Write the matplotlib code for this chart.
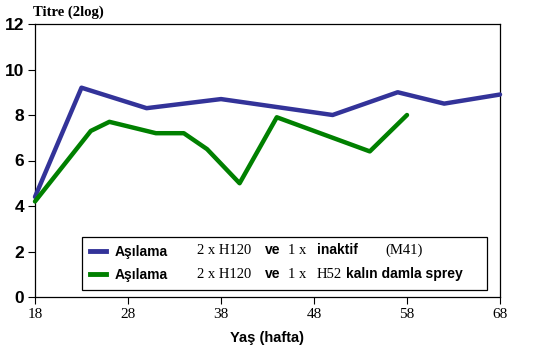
import numpy as np
import matplotlib
matplotlib.use("Agg")
import matplotlib.pyplot as plt
from matplotlib.lines import Line2D

# veriler
hafta_m41 = [18, 23, 30, 38, 50, 57, 62, 68]
titre_m41 = [4.4, 9.2, 8.3, 8.7, 8.0, 9.0, 8.5, 8.9]

hafta_h52 = [18, 24, 26, 31, 34, 36.5, 40, 44, 50, 54, 58]
titre_h52 = [4.2, 7.3, 7.7, 7.2, 7.2, 6.5, 5.0, 7.9, 7.0, 6.4, 8.0]

x_ticks = [18, 28, 38, 48, 58, 68]
y_ticks = [0, 2, 4, 6, 8, 10, 12]

mavi = '#333399'
yesil = '#008000'

W, H = 542, 349
fig = plt.figure(figsize=(W / 100, H / 100), dpi=100)
ax = fig.add_axes([35 / W, 1 - 297 / H, 465 / W, 273 / H])

ax.plot(hafta_m41, titre_m41, color=mavi, lw=3.2, solid_capstyle='round', clip_on=False, zorder=3)
ax.plot(hafta_h52, titre_h52, color=yesil, lw=3.2, solid_capstyle='round', clip_on=False, zorder=3)

ax.set_xlim(18, 68)
ax.set_ylim(0, 12)
ax.set_xticks(x_ticks)
ax.set_yticks(y_ticks)
ax.tick_params(direction='out', length=5, width=0.8, pad=3)
for lb in ax.get_yticklabels():
    lb.set_fontfamily('Liberation Sans')
    lb.set_fontweight('bold')
    lb.set_fontsize(12.5)
for lb in ax.get_xticklabels():
    lb.set_fontfamily('Liberation Serif')
    lb.set_fontsize(11)
for s in ax.spines.values():
    s.set_linewidth(0.9)

fig.text(33 / W, 1 - 12 / H, 'Titre (2log)', fontfamily='Liberation Serif', fontweight='bold',
         fontsize=10.5, va='center', ha='left')
fig.text(267 / W, 1 - 338 / H, 'Yaş (hafta)', fontfamily='Liberation Sans', fontweight='bold',
         fontsize=10.5, va='center', ha='center')

# lejant: kutu + çizgiler legend ile, yazilar karisik fontla ayrica
handles = [Line2D([], [], color=mavi, lw=3.5), Line2D([], [], color=yesil, lw=3.5)]
leg = ax.legend(handles, ['Aşılama', 'Aşılama'], loc='lower left',
                bbox_to_anchor=(82 / W, 1 - 290 / H, 405 / W, 57 / H),
                bbox_transform=fig.transFigure, mode='expand', fancybox=False,
                edgecolor='black', framealpha=1, handlelength=1.15, handletextpad=0.6,
                borderpad=0.6, labelspacing=0.6, borderaxespad=0,
                prop={'family': 'Liberation Sans', 'weight': 'bold', 'size': 10})
leg.get_frame().set_linewidth(0.9)

serif = dict(fontfamily='Liberation Serif', fontsize=10.5, va='center', ha='left')
sans = dict(fontfamily='Liberation Sans', fontweight='bold', fontsize=10, va='center', ha='left')
for yy in (250, 274):
    fy = 1 - yy / H
    fig.text(197 / W, fy, '2 x H120', **serif)
    fig.text(265 / W, fy, 've', **sans)
    fig.text(288 / W, fy, '1 x', **serif)
fig.text(317 / W, 1 - 250 / H, 'inaktif', **sans)
fig.text(385 / W, 1 - 250 / H, '(M41)', **serif)
fig.text(317 / W, 1 - 274 / H, 'H52', **serif)
fig.text(346 / W, 1 - 274 / H, 'kalın damla sprey', **sans)

fig.savefig('out.png', dpi=100)
